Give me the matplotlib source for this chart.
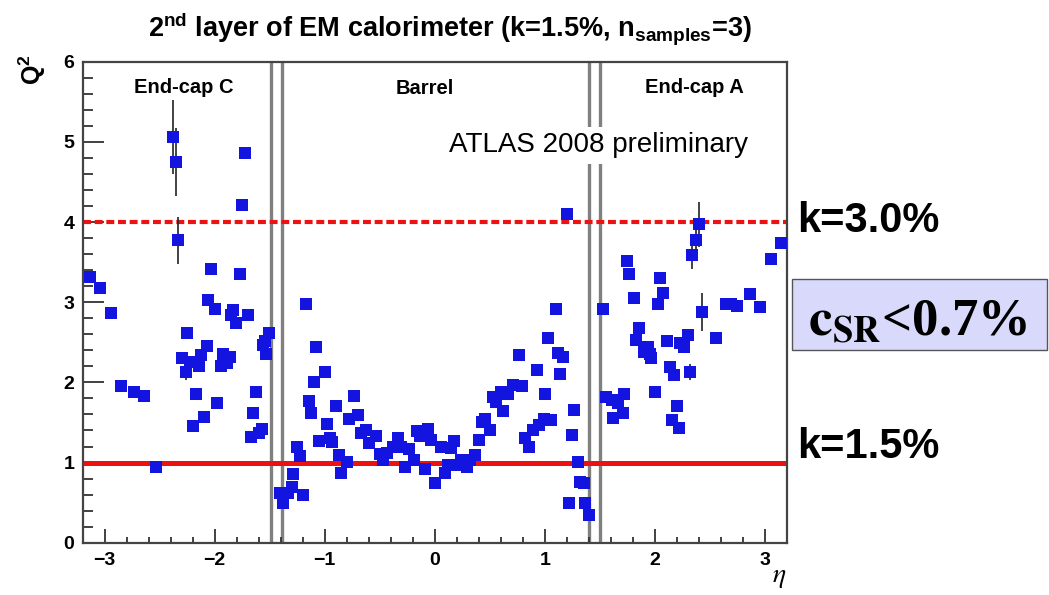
import matplotlib
matplotlib.use("Agg")
import matplotlib.pyplot as plt
from matplotlib.patches import Rectangle
from matplotlib.ticker import MultipleLocator
import numpy as np

plt.rcParams['font.family'] = ['Liberation Sans', 'DejaVu Sans']
plt.rcParams['mathtext.fontset'] = 'custom'
plt.rcParams['mathtext.rm'] = 'Liberation Sans'
plt.rcParams['mathtext.bf'] = 'Liberation Sans:bold'

# Q^2 per eta bin, 2nd sampling of the EM calorimeter
eta_endcap_c = [-3.13, -3.04, -2.94, -2.85, -2.73, -2.64, -2.53, -2.38, -2.35, -2.33,
                -2.25, -2.30, -2.26, -2.22, -2.17, -2.20, -2.14, -2.12, -2.10, -2.07,
                -2.06, -2.03, -2.00, -1.98, -1.94, -1.92, -1.89, -1.86, -1.85, -1.83,
                -1.81, -1.77, -1.75, -1.72, -1.70, -1.67, -1.65, -1.62, -1.60, -1.57,
                -1.56, -1.53, -1.51, -1.54]
q2_endcap_c = [3.31, 3.18, 2.86, 1.95, 1.88, 1.83, 0.95, 5.06, 4.75, 3.77,
               2.61, 2.30, 2.13, 2.26, 1.85, 1.45, 2.20, 2.34, 1.57, 2.45,
               3.03, 3.41, 2.92, 1.74, 2.20, 2.36, 2.24, 2.32, 2.84, 2.90,
               2.74, 3.35, 4.21, 4.86, 2.84, 1.32, 1.62, 1.88, 1.37, 1.42,
               2.47, 2.36, 2.61, 2.52]

eta_barrel = [-1.41, -1.38, -1.33, -1.30, -1.29, -1.25, -1.22, -1.20, -1.17, -1.14,
              -1.12, -1.10, -1.08, -1.05, -1.00, -0.98, -0.95, -0.93, -0.90, -0.87,
              -0.85, -0.80, -0.78, -0.73, -0.70, -0.67, -0.62, -0.60, -0.53, -0.50,
              -0.47, -0.43, -0.38, -0.33, -0.31, -0.27, -0.23, -0.19, -0.16, -0.13,
              -0.09, -0.06, -0.03, 0.00, 0.06, 0.09, 0.12, 0.15, 0.18, 0.21,
              0.24, 0.29, 0.32, 0.37, 0.40, 0.43, 0.46, 0.50, 0.53, 0.56,
              0.60, 0.62, 0.67, 0.71, 0.77, 0.79, 0.82, 0.86, 0.89, 0.93,
              0.95, 0.99, 1.00, 1.03, 1.06, 1.10, 1.12, 1.14, 1.17, 1.20,
              1.22, 1.25, 1.27, 1.30, 1.32, 1.36, 1.37, 1.40]
q2_barrel = [0.62, 0.50, 0.62, 0.69, 0.86, 1.20, 1.08, 0.59, 2.98, 1.77,
             1.62, 2.00, 2.44, 1.27, 2.13, 1.48, 1.30, 1.25, 1.70, 1.10,
             0.87, 1.01, 1.54, 1.83, 1.59, 1.37, 1.40, 1.24, 1.33, 1.11,
             1.03, 1.12, 1.19, 1.31, 1.20, 0.95, 1.17, 1.03, 1.39, 1.33,
             0.92, 1.42, 1.28, 0.74, 1.20, 0.87, 0.97, 1.18, 1.27, 0.97,
             1.03, 0.95, 1.03, 1.10, 1.28, 1.50, 1.54, 1.41, 1.82, 1.76,
             1.88, 1.64, 1.86, 1.97, 2.34, 1.95, 1.30, 1.20, 1.41, 2.16,
             1.47, 1.54, 1.85, 2.55, 1.53, 2.92, 2.37, 2.11, 2.32, 4.10,
             0.50, 1.34, 1.66, 1.01, 0.76, 0.74, 0.50, 0.34]

eta_endcap_a = [1.53, 1.56, 1.61, 1.62, 1.67, 1.71, 1.72, 1.75, 1.77, 1.81,
                1.83, 1.86, 1.90, 1.94, 1.96, 1.97, 2.00, 2.03, 2.05, 2.08,
                2.11, 2.14, 2.16, 2.18, 2.20, 2.22, 2.23, 2.27, 2.30, 2.32,
                2.34, 2.38, 2.40, 2.43, 2.56, 2.65, 2.69, 2.75, 2.87, 2.96,
                3.06, 3.15]
q2_endcap_a = [2.92, 1.82, 1.78, 1.55, 1.74, 1.62, 1.86, 3.52, 3.35, 3.05,
               2.53, 2.68, 2.38, 2.44, 2.35, 2.30, 1.88, 2.98, 3.30, 3.12,
               2.51, 2.19, 1.53, 2.09, 1.70, 1.43, 2.49, 2.44, 2.59, 2.13,
               3.59, 3.77, 3.97, 2.88, 2.55, 2.98, 2.98, 2.95, 3.10, 2.94,
               3.54, 3.74]

# bins with a visible statistical error: (eta, Q2, sigma)
err_eta = [-2.38, -2.35, -2.33, -2.26, 2.30, 2.32, 2.34, 2.38, 2.40, 2.43]
err_q2 = [5.06, 4.75, 3.77, 2.13, 2.59, 2.13, 3.59, 3.77, 3.97, 2.88]
err_sig = [0.46, 0.42, 0.29, 0.10, 0.08, 0.10, 0.18, 0.22, 0.28, 0.24]

region_edges = [-1.49, -1.39, 1.40, 1.50]
k_levels = [1.0, 4.0]

eta = np.array(eta_endcap_c + eta_barrel + eta_endcap_a)
q2 = np.array(q2_endcap_c + q2_barrel + q2_endcap_a)

W, H = 1049, 595
fig = plt.figure(figsize=(W / 100, H / 100), dpi=100)
ax = fig.add_axes([82.7 / W, 1 - 542.7 / H, 704 / W, 481 / H])

ax.set_xlim(-3.2, 3.2)
ax.set_ylim(0, 6)

for x in region_edges:
    ax.axvline(x, color='#808080', lw=2.4, zorder=1)

ax.axhline(k_levels[0], color='#ee1111', lw=3.6, zorder=2)
ax.axhline(k_levels[1], color='#ee1111', lw=3.0, ls=(0, (1.9, 0.9)), zorder=2)

ax.errorbar(err_eta, err_q2, yerr=err_sig, fmt='none', ecolor='#222222',
            elinewidth=1.2, zorder=3)
ax.plot(eta, q2, 's', color='#1414e0', ms=8.5, mew=0, zorder=4)

ax.xaxis.set_major_locator(MultipleLocator(1))
ax.xaxis.set_minor_locator(MultipleLocator(0.2))
ax.yaxis.set_major_locator(MultipleLocator(1))
ax.yaxis.set_minor_locator(MultipleLocator(0.2))
ax.tick_params(axis='both', which='both', direction='in', color='#333333',
               width=1.3, labelsize=14)
ax.tick_params(axis='y', which='major', length=15, pad=6)
ax.tick_params(axis='y', which='minor', length=7)
ax.tick_params(axis='x', which='major', length=10, pad=7)
ax.tick_params(axis='x', which='minor', length=4.5)
for lab in ax.get_xticklabels() + ax.get_yticklabels():
    lab.set_fontweight('bold')
for sp in ax.spines.values():
    sp.set_color('#444444')
    sp.set_linewidth(1.6)

ax.text(-2.28, 5.61, 'End-cap C', ha='center', va='baseline', fontsize=14.5,
        fontweight='bold', zorder=6)
ax.text(-0.09, 5.60, 'Barrel', ha='center', va='baseline', fontsize=14.5,
        fontweight='bold', zorder=6)
ax.text(2.36, 5.61, 'End-cap A', ha='center', va='baseline', fontsize=14.5,
        fontweight='bold', zorder=6)
ax.text(0.13, 4.87, 'ATLAS 2008 preliminary', ha='left', va='baseline',
        fontsize=20, zorder=6,
        bbox=dict(facecolor='white', edgecolor='none', pad=4))

fig.text(450 / W, 1 - 29 / H,
         r'2$^{\mathbf{nd}}$ layer of EM calorimeter (k=1.5%, n$_{\mathbf{samples}}$=3)',
         ha='center', va='center', fontsize=19.5, fontweight='bold')
fig.text(32 / W, 1 - 70 / H, r'Q$^{\mathbf{2}}$', rotation=90, ha='center',
         va='center', fontsize=18, fontweight='bold')
fig.text(779 / W, 1 - 577 / H, r'$\eta$', ha='center', va='center',
         fontsize=20, math_fontfamily='stix')

# k and c_SR annotations to the right of the frame
fig.text(797 / W, 1 - 231.7 / H, 'k=3.0%', ha='left', va='baseline',
         fontsize=30, fontweight='bold')
fig.text(797 / W, 1 - 458 / H, 'k=1.5%', ha='left', va='baseline',
         fontsize=30, fontweight='bold')
fig.patches.append(Rectangle((792 / W, 1 - 350 / H), 255 / W, 71 / H,
                             transform=fig.transFigure, facecolor='#d9d9fc',
                             edgecolor='#555555', lw=1.0))
fig.text(808 / W, 1 - 335 / H, r'$\mathbf{c}_{\mathbf{SR}}$<0.7%',
         ha='left', va='baseline', fontsize=38, fontweight='bold',
         family=['Liberation Serif', 'DejaVu Serif'], math_fontfamily='stix')

fig.savefig('out.png', dpi=100)
